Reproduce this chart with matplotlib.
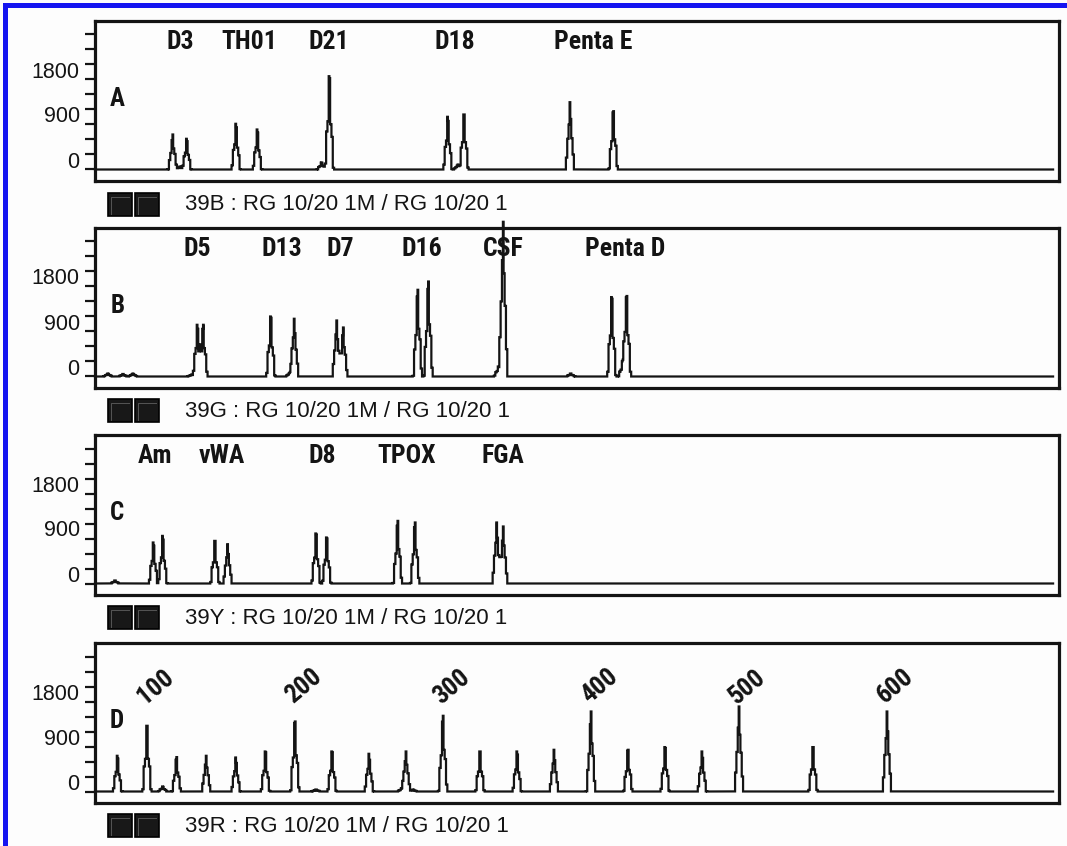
import numpy as np
import matplotlib
matplotlib.use('Agg')
import matplotlib.pyplot as plt
from matplotlib.patches import Rectangle
from matplotlib.transforms import ScaledTranslation
from matplotlib.ticker import FixedLocator
from matplotlib import font_manager as fm

# ---------------- data ----------------
panel_letters = ['A', 'B', 'C', 'D']
channel_names = ['39B', '39G', '39Y', '39R']
run_label = ': RG 10/20 1M / RG 10/20 1'

# locus labels (name, centre position in bp)
a_loci = ['D3', 'TH01', 'D21', 'D18', 'Penta E']
a_loci_bp = [122.3, 168.9, 223.0, 308.1, 401.4]
b_loci = ['D5', 'D13', 'D7', 'D16', 'CSF', 'Penta D']
b_loci_bp = [133.8, 191.2, 230.4, 285.8, 340.5, 423.0]
c_loci = ['Am', 'vWA', 'D8', 'TPOX', 'FGA']
c_loci_bp = [105.4, 150.7, 218.2, 275.7, 340.5]

# peaks: position (bp) and top height (RFU)
a_peak_bp = [117.4, 122.3, 126.8, 160.1, 174.5, 218.0, 223.2, 303.2, 310.1, 314.2, 385.8, 415.1]
a_peak_rfu = [400, -240, 314, 614, 500, -160, 1566, 754, -200, 800, 1046, 866]

b_peak_bp = [73.6, 83.8, 90.5, 130.2, 134.0, 138.0, 183.6, 196.6, 199.5, 228.2, 232.6,
             282.9, 290.1, 337.4, 340.7, 386.3, 414.0, 421.4, 424.1]
b_peak_rfu = [-240, -250, -240, -260, 734, 734, 900, -220, 854, 820, 680,
              1434, 1600, -100, 2794, -240, 1288, -20, 1300]

c_peak_bp = [78.4, 104.3, 110.6, 145.9, 154.5, 214.2, 221.4, 269.4, 281.1, 336.3, 340.7]
c_peak_rfu = [-240, 520, 652, 552, 486, 700, 620, 952, 920, 920, 840]

ladder_bp = [80, 100, 120, 140, 160, 180, 200, 225, 250, 275, 300, 325, 350, 375,
             400, 425, 450, 475, 500, 550, 600]
ladder_rfu = [414, 1014, 388, 414, 380, 500, 1100, 500, 454, 500, 1214, 500, 500, 534,
              1300, 534, 588, 500, 1400, 588, 1300]
d_extra_bp = [110.6, 214.2, 272.1, 279.7]
d_extra_rfu = [-200, -260, -240, -260]
ladder_labels = ['100', '200', '300', '400', '500', '600']
ladder_label_bp = [100, 200, 300, 400, 500, 600]

ytick_values = [0, 900, 1800]

# ---------------- layout / style ----------------
W, H, DPI = 1067, 846, 100
BASE = -300            # trace baseline level
XMIN, XMAX = 64.9, 716.2
TRACE_END = 712.2
STEP = 0.9
SPIKE_W, SHOULDER_W, SPIKE_FRAC = 0.35, 2.3, 0.52
YLIM = (-530, 2670)
AX_LEFT, AX_RIGHT = 95, 1059
AX_TOPS = [21, 228, 435, 643]
AX_H = 160
FOOT_Y = [205, 411, 618, 826]
INK = '#141414'


def find_condensed_bold():
    cands = []
    for f in fm.fontManager.ttflist:
        name = f.name.lower()
        st = str(f.stretch).lower()
        condensed = ('narrow' in name or 'condensed' in name or 'condensed' in st
                     or (isinstance(f.stretch, (int, float)) and f.stretch < 500))
        bold = f.weight in ('bold', 'heavy', 'black', 'semibold', 'demibold') or \
            (isinstance(f.weight, int) and f.weight >= 600)
        if condensed and bold and 'oblique' not in f.style and 'italic' not in f.style:
            cands.append(f)
    pref = ['liberation sans narrow', 'roboto condensed', 'open sans', 'dejavu sans', 'noto sans']
    for p in pref:
        for f in cands:
            if f.name.lower().startswith(p):
                return fm.FontProperties(fname=f.fname)
    if cands:
        return fm.FontProperties(fname=cands[0].fname)
    return fm.FontProperties(family='DejaVu Sans', weight='bold', stretch='condensed')


BOLDN = find_condensed_bold()
PLAIN = ['Liberation Sans', 'DejaVu Sans']


def bn(size):
    fp = BOLDN.copy()
    fp.set_size(size)
    return fp


fig = plt.figure(figsize=(W / DPI, H / DPI), dpi=DPI, facecolor='#fdfdfd')

# blue frame (top and left)
fig.add_artist(Rectangle((3 / W, 0), 5 / W, 1 - 3 / H, transform=fig.transFigure,
                         facecolor='#1414f0', edgecolor='none'))
fig.add_artist(Rectangle((3 / W, 1 - 8 / H), 1, 5 / H, transform=fig.transFigure,
                         facecolor='#1414f0', edgecolor='none'))


def trace(peaks_bp, peaks_rfu):
    grid = np.arange(XMIN, TRACE_END, STEP)
    x = np.unique(np.concatenate([grid, np.array(peaks_bp, float), [TRACE_END]]))
    y = np.full_like(x, BASE, dtype=float)
    for p, h in zip(peaks_bp, peaks_rfu):
        dx = x - p
        shape = SPIKE_FRAC * np.exp(-dx ** 2 / (2 * SPIKE_W ** 2)) + \
            (1 - SPIKE_FRAC) * np.exp(-(np.abs(dx) / SHOULDER_W) ** 6)
        y += (h - BASE) * shape
    return x, y


panels = [
    (a_peak_bp, a_peak_rfu, a_loci, a_loci_bp),
    (b_peak_bp, b_peak_rfu, b_loci, b_loci_bp),
    (c_peak_bp, c_peak_rfu, c_loci, c_loci_bp),
    (ladder_bp + d_extra_bp, ladder_rfu + d_extra_rfu, None, None),
]

for i, (pbp, prfu, loci, loci_bp) in enumerate(panels):
    top = AX_TOPS[i]
    ax = fig.add_axes([AX_LEFT / W, 1 - (top + AX_H) / H, (AX_RIGHT - AX_LEFT) / W, AX_H / H])
    ax.set_facecolor('#fdfdfd')
    x, y = trace(pbp, prfu)
    ax.plot(x, y, drawstyle='steps-mid', lw=1.6, color=INK, clip_on=False, solid_joinstyle='miter')
    ax.set_xlim(XMIN, XMAX)
    ax.set_ylim(*YLIM)
    for s in ax.spines.values():
        s.set_linewidth(2.3)
        s.set_color(INK)
    ax.set_xticks([])
    ax.yaxis.set_major_locator(FixedLocator(ytick_values))
    ax.yaxis.set_minor_locator(FixedLocator([v for v in range(-300, 2401, 300) if v not in ytick_values]))
    ax.set_yticklabels([str(v) for v in ytick_values])
    ax.tick_params(axis='y', which='both', length=7.5, width=1.6, color=INK, direction='out')
    ax.tick_params(axis='y', which='major', pad=3.5, labelsize=15.5)
    for lab in ax.get_yticklabels():
        lab.set_family(PLAIN)
        lab.set_color(INK)
        lab.set_transform(lab.get_transform() + ScaledTranslation(0, -5 / DPI, fig.dpi_scale_trans))

    ax.text(0.023, 0.515, panel_letters[i], transform=ax.transAxes, ha='center', va='center',
            fontproperties=bn(18), color=INK)

    if loci is not None:
        for name, bp in zip(loci, loci_bp):
            ax.text(bp, 2260, name, ha='center', va='center', fontproperties=bn(18.5), color=INK)
    else:
        for name, bp in zip(ladder_labels, ladder_label_bp):
            ax.text(bp + 5.7, 1800, name, ha='center', va='center', rotation=40,
                    fontproperties=bn(18.5), color=INK, rotation_mode='anchor')

    # footer: two dark squares and channel text
    fy = FOOT_Y[i]
    for sx in (108, 135):
        fig.add_artist(Rectangle((sx / W, 1 - (fy + 11) / H), 24 / W, 23 / H,
                                 transform=fig.transFigure, facecolor='#181818',
                                 edgecolor='#000000', lw=1.2))
        fig.add_artist(plt.Line2D([(sx + 3) / W, (sx + 3) / W, (sx + 21) / W],
                                  [1 - (fy + 9) / H, 1 - (fy - 8) / H, 1 - (fy - 8) / H],
                                  transform=fig.transFigure, color='#555555', lw=0.7))
    fig.text(185 / W, 1 - fy / H, f'{channel_names[i]} {run_label}', ha='left', va='center',
             fontsize=16, family=PLAIN, color=INK)

fig.savefig('out.png', dpi=DPI, facecolor=fig.get_facecolor())
